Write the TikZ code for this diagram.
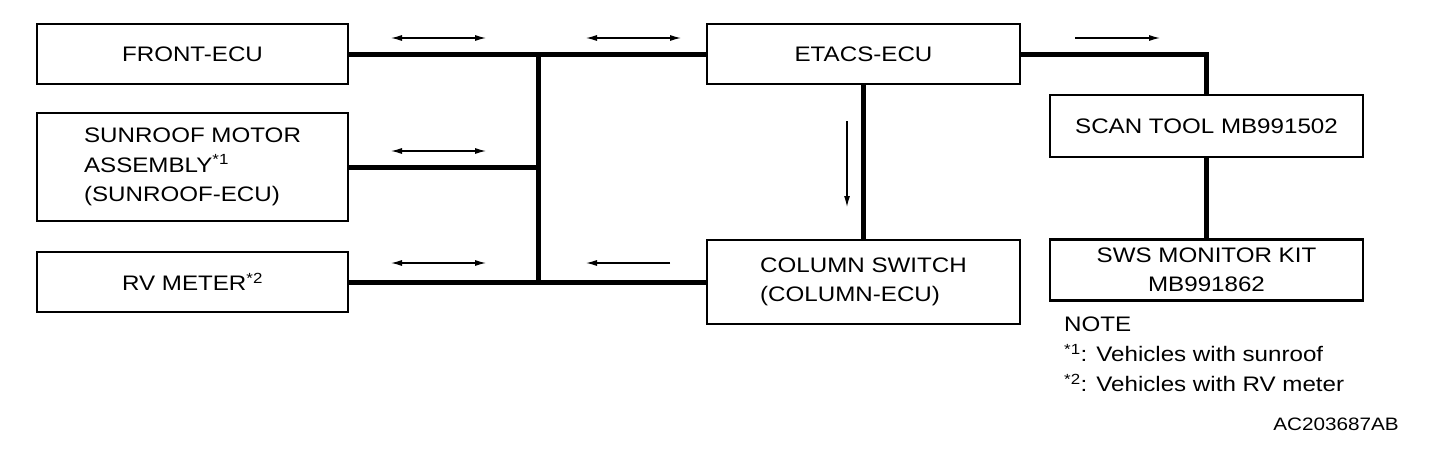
\documentclass[tikz,border=0pt]{standalone}
\usepackage{fontspec}
\setmainfont[FakeStretch=1.15]{Liberation Sans}
\usetikzlibrary{positioning,arrows.meta}

\begin{document}
\begin{tikzpicture}[
        x=1pt, y=-1pt,
        ecu/.style={draw, line width=2.6pt, minimum width=311pt, minimum height=60pt, align=center, inner sep=0pt, font=\fontsize{21}{29.5}\selectfont},
        bus/.style={line width=5pt},
        dir/.style={line width=1.2pt, -{Latex[length=11pt,width=6pt]}},
        bidir/.style={line width=1.2pt, {Latex[length=11pt,width=6pt]}-{Latex[length=11pt,width=6pt]}},
        txt/.style={inner sep=0pt, align=left, font=\fontsize{21}{30}\selectfont}
      ]
      \useasboundingbox (0,0) rectangle (1440,450);

      % Left column
      \node[ecu] (front) at (192.5,54) {FRONT-ECU};
      \node[ecu, minimum height=108pt, align=left] (sunroof) at (192.5,167) {SUNROOF MOTOR\\ASSEMBLY\textsuperscript{*1}\\(SUNROOF-ECU)};
      \node[ecu] (rvmeter) at (192.5,282) {RV METER\textsuperscript{*2}};

      % Middle column
      \node[ecu, minimum width=313pt] (etacs) at (863.5,54) {ETACS-ECU};
      \node[ecu, minimum width=313pt, minimum height=84pt, align=left] (column) at (863.5,282) {COLUMN SWITCH\\(COLUMN-ECU)};

      % Right column
      \node[ecu, minimum width=313pt, minimum height=62pt] (scantool) at (1206.5,126) {SCAN TOOL MB991502};
      \node[ecu, minimum width=313pt, minimum height=61pt] (sws) at (1206.5,270) {SWS MONITOR KIT\\MB991862};

      % Bus lines
      \coordinate (jtop) at (538,54);
      \coordinate (jbot) at (538,282);
      \draw[bus] (front.east) -- (etacs.west);
      \draw[bus] (sunroof.east) -- (sunroof.east -| jtop);
      \draw[bus] (rvmeter.east) -- (column.west);
      \draw[bus] (jtop) -- (jbot);
      \draw[bus] (etacs.south) -- (column.north);
      \draw[bus] (etacs.east) -| (scantool.north);
      \draw[bus] (scantool.south) -- (sws.north);

      % Signal arrows
      \coordinate (a1s) at (391,38);  \coordinate (a1e) at (486,38);
      \coordinate (a2s) at (586,38);  \coordinate (a2e) at (681,38);
      \coordinate (a3s) at (391,151); \coordinate (a3e) at (486,151);
      \coordinate (a4s) at (391,263); \coordinate (a4e) at (486,263);
      \coordinate (a5s) at (670,263); \coordinate (a5e) at (586,263);
      \coordinate (a6s) at (1075,38); \coordinate (a6e) at (1160,38);
      \coordinate (a7s) at (847,121); \coordinate (a7e) at (847,207);
      \draw[bidir] (a1s) -- (a1e);
      \draw[bidir] (a2s) -- (a2e);
      \draw[bidir] (a3s) -- (a3e);
      \draw[bidir] (a4s) -- (a4e);
      \draw[dir] (a5s) -- (a5e);
      \draw[dir] (a6s) -- (a6e);
      \draw[dir] (a7s) -- (a7e);

      % Notes
      \node[txt, anchor=north west] (note) at (1064,317) {NOTE\\\textsuperscript{*1}: Vehicles with sunroof\\\textsuperscript{*2}: Vehicles with RV meter};
      \node[txt, anchor=east, font=\fontsize{18}{22}\selectfont] (figid) at (1399,424) {AC203687AB};

\end{tikzpicture}
\end{document}
